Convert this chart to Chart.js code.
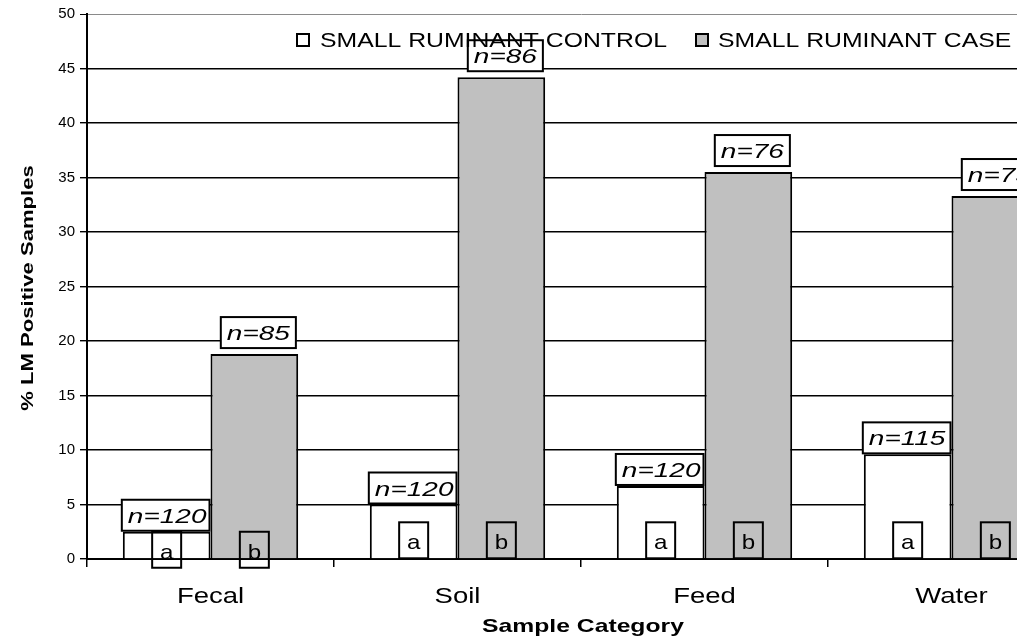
<!DOCTYPE html>
<html>
<head>
<meta charset="utf-8">
<script src="https://cdn.jsdelivr.net/npm/chart.js@4.4.1/dist/chart.umd.min.js"></script>
<style>
	html, body { margin: 0; padding: 0; background: #fff; overflow: hidden; }
	#wrap { width: 1080px; height: 638px; position: relative; }
</style>
</head>
<body>
<div id="wrap"><canvas id="myChart"></canvas></div>
<script>
const categories = ["Fecal", "Soil", "Feed", "Water"];
const controlValues = [2.5, 5.0, 6.7, 9.6];
const caseValues = [18.8, 44.2, 35.5, 33.3];
const controlN = [120, 120, 120, 115];
const caseN = [85, 86, 76, 75];
const controlLetters = ["a", "a", "a", "a"];
const caseLetters = ["b", "b", "b", "b"];
const yTicks = [0, 5, 10, 15, 20, 25, 30, 35, 40, 45, 50];

const FONT = "'Liberation Sans', Arial, sans-serif";

// text in the original is stretched sideways, so draw it with a horizontal scale
function wideText(ctx, text, x, y, font, sx, align) {
	ctx.save();
	ctx.font = font;
	ctx.textBaseline = "alphabetic";
	ctx.textAlign = "left";
	const w = ctx.measureText(text).width * sx;
	let left = x;
	if (align === "center") left = x - w / 2;
	if (align === "right") left = x - w;
	ctx.translate(left, y);
	ctx.scale(sx, 1);
	ctx.fillText(text, 0, 0);
	ctx.restore();
	return w;
}

function textWidth(ctx, text, font, sx) {
	ctx.save();
	ctx.font = font;
	const w = ctx.measureText(text).width * sx;
	ctx.restore();
	return w;
}

const boxLabels = {
	id: "boxLabels",
	afterDraw(chart) {
		const ctx = chart.ctx;
		const area = chart.chartArea;
		const xScale = chart.scales.x;
		const ctrlMeta = chart.getDatasetMeta(0);
		const caseMeta = chart.getDatasetMeta(1);
		const nFont = "italic 20px " + FONT;
		const nSx = 1.4;

		ctx.save();
		ctx.strokeStyle = "#000";
		ctx.fillStyle = "#000";
		ctx.lineWidth = 2;

		categories.forEach((cat, i) => {
			const cBar = ctrlMeta.data[i];
			const kBar = caseMeta.data[i];

			// n= box over the control bar
			let txt = "n=" + controlN[i];
			let left = cBar.x - cBar.width / 2 - 1;
			let w = cBar.width;
			let h = 31;
			let bottom = cBar.y - 1;
			ctx.fillStyle = "#fff";
			ctx.fillRect(left, bottom - h, w, h);
			ctx.strokeRect(left, bottom - h, w, h);
			ctx.fillStyle = "#000";
			wideText(ctx, txt, left + 6, bottom - 8, nFont, nSx, "left");

			// n= box over the case bar
			txt = "n=" + caseN[i];
			w = textWidth(ctx, txt, nFont, nSx) + 12;
			left = kBar.x + 4 - w / 2;
			bottom = kBar.y - 6;
			ctx.fillStyle = "#fff";
			ctx.fillRect(left, bottom - h, w, h);
			ctx.strokeRect(left, bottom - h, w, h);
			ctx.fillStyle = "#000";
			wideText(ctx, txt, left + 6, bottom - 8, nFont, nSx, "left");

			// letter boxes at the base
			const lw = 29, lh = 36;
			const top = Math.max(cBar.base - lh, cBar.y);
			[[cBar, controlLetters[i]], [kBar, caseLetters[i]]].forEach(([bar, letter]) => {
				ctx.strokeRect(bar.x - lw / 2, top, lw, lh);
				wideText(ctx, letter, bar.x, top + 27, "21px " + FONT, 1.15, "center");
			});

			// category label
			wideText(ctx, cat, xScale.getPixelForValue(i), 603, "22px " + FONT, 1.25, "center");
		});

		// axis titles
		wideText(ctx, "Sample Category", (area.left + 1017) / 2 + 31, 632, "bold 19px " + FONT, 1.3, "center");
		ctx.save();
		ctx.translate(33, 288);
		ctx.rotate(-Math.PI / 2);
		wideText(ctx, "% LM Positive Samples", 0, 0, "bold 17px " + FONT, 1.3, "center");
		ctx.restore();

		// legend
		ctx.lineWidth = 2;
		const items = [
			{ x: 297, tx: 320, label: chart.data.datasets[0].label, fill: "#fff" },
			{ x: 696, tx: 718, label: chart.data.datasets[1].label, fill: "#c0c0c0" },
		];
		items.forEach((it) => {
			ctx.fillStyle = it.fill;
			ctx.fillRect(it.x, 34, 12, 12);
			ctx.strokeRect(it.x, 34, 12, 12);
			ctx.fillStyle = "#000";
			wideText(ctx, it.label, it.tx, 47, "21px " + FONT, 1.18, "left");
		});
		ctx.restore();
	},
};

const ctx = document.getElementById("myChart").getContext("2d");
const myChart = new Chart(ctx, {
	type: "bar",
	data: {
		labels: categories,
		datasets: [
			{
				label: "SMALL RUMINANT CONTROL",
				data: controlValues,
				backgroundColor: "#ffffff",
				borderColor: "#000000",
				borderWidth: 2,
				barPercentage: 1,
				categoryPercentage: 0.71,
			},
			{
				label: "SMALL RUMINANT CASE",
				data: caseValues,
				backgroundColor: "#c0c0c0",
				borderColor: "#000000",
				borderWidth: 2,
				barPercentage: 1,
				categoryPercentage: 0.71,
			},
		],
	},
	options: {
		responsive: true,
		maintainAspectRatio: false,
		animation: false,
		layout: { padding: { top: 14, right: 5, left: 0, bottom: 0 } },
		plugins: {
			legend: { display: false },
			tooltip: { enabled: false },
		},
		scales: {
			x: {
				grid: {
					drawOnChartArea: false,
					drawTicks: true,
					tickLength: 8,
					color: "#000",
					lineWidth: 1.5,
					offset: true,
				},
				border: { display: true, color: "#000", width: 2 },
				ticks: { display: false },
				afterFit(scale) {
					scale.height = 79;
				},
			},
			y: {
				min: 0,
				max: 50,
				afterBuildTicks(scale) {
					scale.ticks = yTicks.map((v) => ({ value: v }));
				},
				grid: {
					color: (c) => (c.tick && c.tick.value === 50 ? "#8a8a8a" : "#000"),
					tickColor: "#000",
					lineWidth: (c) => (c.tick && c.tick.value === 50 ? 1 : 1.4),
					tickLength: 7,
				},
				border: { display: true, color: "#000", width: 2 },
				ticks: { color: "#000", font: { family: FONT, size: 15 }, padding: 5 },
				afterFit(scale) {
					scale.width = 87;
				},
			},
		},
	},
	plugins: [boxLabels],
});
</script>
</body>
</html>
